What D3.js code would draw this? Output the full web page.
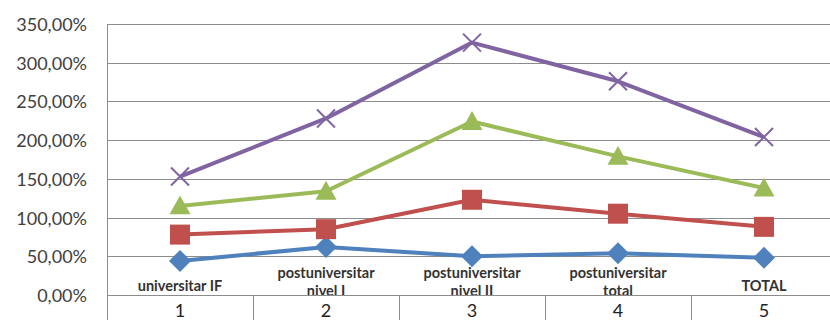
<!DOCTYPE html>
<html>
<head>
<meta charset="utf-8">
<script src="https://cdn.jsdelivr.net/npm/d3@7"></script>
<style>
  html, body { margin: 0; padding: 0; background: #fff; }
  svg { display: block; }
</style>
</head>
<body>
<svg id="chart" width="830" height="320"></svg>
<script>
// Categories and their in-plot captions
const categories = [1, 2, 3, 4, 5];
const captions = [
  ["universitar IF"],
  ["postuniversitar", "nivel I"],
  ["postuniversitar", "nivel II"],
  ["postuniversitar", "total"],
  ["TOTAL"]
];

// Series values, in percent (cumulative lines)
const seriesBlue   = [44, 62, 50, 54, 48];
const seriesRed    = [78, 85, 123, 105, 88];
const seriesGreen  = [115, 134, 224, 179, 138];
const seriesPurple = [153, 228, 326, 276, 204];

// Y axis ticks
const yTicks = [0, 50, 100, 150, 200, 250, 300, 350];

const svg = d3.select("#chart");
const W = 830, H = 320;
const plot = { left: 107, right: 837, top: 24, bottom: 295 };

const x = d3.scaleBand().domain(categories).range([plot.left, plot.right]).padding(0);
const y = d3.scaleLinear().domain([0, 350]).range([plot.bottom, plot.top]);

const gridColor = "#8c8c8c";
const fmt = v => v.toFixed(2).replace(".", ",") + "%";

// Horizontal gridlines
svg.append("g")
  .selectAll("line")
  .data(yTicks.filter(t => t > 0))
  .join("line")
  .attr("x1", plot.left).attr("x2", plot.right)
  .attr("y1", d => Math.round(y(d)) + 0.5).attr("y2", d => Math.round(y(d)) + 0.5)
  .attr("stroke", gridColor).attr("stroke-width", 1);

// Y tick labels
svg.append("g")
  .selectAll("text")
  .data(yTicks)
  .join("text")
  .attr("x", 87)
  .attr("y", d => y(d) + 7)
  .attr("text-anchor", "end")
  .attr("font-family", "Lato, 'Open Sans', sans-serif")
  .attr("font-size", 18)
  .attr("fill", "#404040")
  .text(fmt);

// Category captions inside the plot
const capG = svg.append("g")
  .attr("font-family", "Lato, 'Open Sans', sans-serif")
  .attr("font-weight", "bold")
  .attr("font-size", 14.5)
  .attr("fill", "#333")
  .attr("text-anchor", "middle");
categories.forEach((c, i) => {
  const lines = captions[i];
  const cx = x(c) + x.bandwidth() / 2;
  const base = lines.length === 1 ? 291 : 278;
  const t = capG.append("text").attr("x", cx).attr("y", base);
  lines.forEach((ln, j) => {
    t.append("tspan").attr("x", cx).attr("y", base + j * 18).text(ln);
  });
});

// Category table below the axis
svg.append("g")
  .selectAll("line")
  .data(categories.map(c => x(c)).concat([plot.right]))
  .join("line")
  .attr("x1", d => Math.round(d) + 0.5).attr("x2", d => Math.round(d) + 0.5)
  .attr("y1", (d, i) => i === 0 ? plot.top : plot.bottom).attr("y2", H)
  .attr("stroke", gridColor).attr("stroke-width", 1);

svg.append("line")
  .attr("x1", plot.left).attr("x2", plot.right)
  .attr("y1", plot.bottom + 0.5).attr("y2", plot.bottom + 0.5)
  .attr("stroke", gridColor).attr("stroke-width", 1);

svg.append("g")
  .selectAll("text")
  .data(categories)
  .join("text")
  .attr("x", d => x(d) + x.bandwidth() / 2)
  .attr("y", 317)
  .attr("text-anchor", "middle")
  .attr("font-family", "Lato, 'Open Sans', sans-serif")
  .attr("font-size", 18)
  .attr("fill", "#222")
  .text(d => d);

// Marker shapes
const diamond = {
  draw(ctx, size) {
    const r = Math.sqrt(size) / 2;
    ctx.moveTo(0, -r); ctx.lineTo(r, 0); ctx.lineTo(0, r); ctx.lineTo(-r, 0); ctx.closePath();
  }
};
const square = {
  draw(ctx, size) {
    const r = Math.sqrt(size) / 2;
    ctx.rect(-r, -r, 2 * r, 2 * r);
  }
};
const triangle = {
  draw(ctx, size) {
    const r = Math.sqrt(size) / 2;
    ctx.moveTo(0, -r); ctx.lineTo(r, r * 0.8); ctx.lineTo(-r, r * 0.8); ctx.closePath();
  }
};
const cross = {
  draw(ctx, size) {
    const r = Math.sqrt(size) / 2;
    ctx.moveTo(-r, -r); ctx.lineTo(r, r); ctx.moveTo(-r, r); ctx.lineTo(r, -r);
  }
};

const series = [
  { values: seriesBlue,   color: "#4f81bd", shape: diamond,  size: 484, stroked: false },
  { values: seriesRed,    color: "#c0504d", shape: square,   size: 400, stroked: false },
  { values: seriesGreen,  color: "#9bbb59", shape: triangle, size: 441, stroked: false },
  { values: seriesPurple, color: "#8064a2", shape: cross,    size: 324, stroked: true }
];

const line = d3.line()
  .x((d, i) => x(categories[i]) + x.bandwidth() / 2)
  .y(d => y(d));

series.forEach(s => {
  const g = svg.append("g");
  g.append("path")
    .attr("d", line(s.values))
    .attr("fill", "none")
    .attr("stroke", s.color)
    .attr("stroke-width", 4)
    .attr("stroke-linejoin", "round");
  g.selectAll("path.m")
    .data(s.values)
    .join("path")
    .attr("class", "m")
    .attr("transform", (d, i) => `translate(${x(categories[i]) + x.bandwidth() / 2},${y(d)})`)
    .attr("d", d3.symbol().type(s.shape).size(s.size))
    .attr("fill", s.stroked ? "none" : s.color)
    .attr("stroke", s.stroked ? s.color : "none")
    .attr("stroke-width", s.stroked ? 2 : 0);
});
</script>
</body>
</html>
